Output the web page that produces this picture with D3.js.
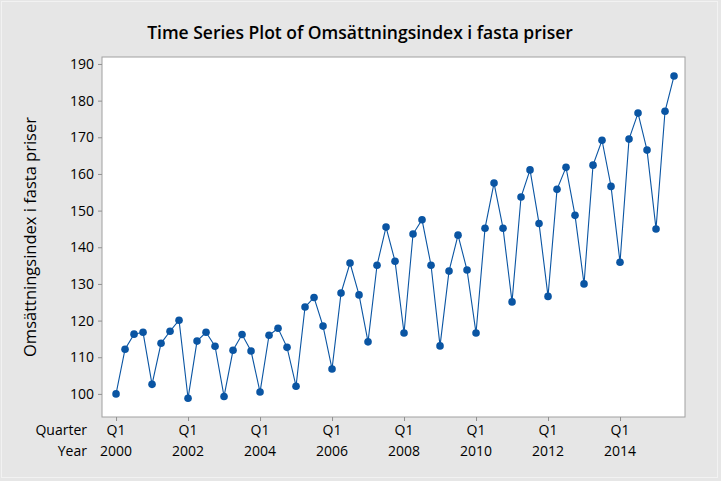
<!DOCTYPE html>
<html><head><meta charset="utf-8">
<script src="https://cdn.jsdelivr.net/npm/d3@7"></script>
<style>body{margin:0;background:#e6e6e6}svg{display:block}text{font-family:"Open Sans","Noto Sans",sans-serif;fill:#000}</style>
</head><body><div id="chart"></div>
<script>
const title = "Time Series Plot of Omsättningsindex i fasta priser";
const yLabel = "Omsättningsindex i fasta priser";
const startYear = 2000;
const values = [100.0,112.2,116.3,116.8,102.6,113.8,117.1,120.1,98.8,114.4,116.8,113.0,99.3,111.9,116.2,111.7,
100.5,116.0,117.9,112.7,102.1,123.7,126.3,118.5,106.8,127.5,135.7,127.0,114.2,135.1,145.5,136.2,
116.6,143.6,147.5,135.1,113.1,133.5,143.3,133.8,116.6,145.2,157.5,145.2,125.1,153.7,161.1,146.5,
126.6,155.8,161.8,148.7,130.0,162.4,169.2,156.6,135.9,169.5,176.6,166.5,145.0,177.1,186.7];
const yTicks = [100,110,120,130,140,150,160,170,180,190];
const xTickYears = [2000,2002,2004,2006,2008,2010,2012,2014];
const quarterLabel = "Q1";

const W = 721, H = 481;
const m = {l:102, t:57, r:685, b:417};
const svg = d3.select("#chart").append("svg").attr("width",W).attr("height",H);
svg.append("rect").attr("x",0).attr("y",0).attr("width",W).attr("height",H).attr("fill","#e6e6e6");
svg.append("rect").attr("x",1.5).attr("y",1.5).attr("width",W-5).attr("height",H-5).attr("fill","none").attr("stroke","#f2f2f2");

const x = d3.scaleLinear().domain([-1.56, 63.22]).range([m.l, m.r]);
const y = d3.scaleLinear().domain([93.7, 191.9]).range([m.b, m.t]);

svg.append("rect").attr("x",m.l).attr("y",m.t).attr("width",m.r-m.l).attr("height",m.b-m.t)
  .attr("fill","#fff").attr("stroke","#a0a0a0");

// y axis
const ya = svg.append("g").attr("transform",`translate(${m.l},0)`)
  .call(d3.axisLeft(y).tickValues(yTicks).tickSize(4).tickPadding(4));
ya.select(".domain").remove();
ya.selectAll("line").attr("stroke","#909090");
ya.selectAll("text").style("font-size","14px").attr("fill","#000");

// x axis
const idx = xTickYears.map(yr => (yr-startYear)*4);
const xa = svg.append("g").attr("transform",`translate(0,${m.b})`)
  .call(d3.axisBottom(x).tickValues(idx).tickSize(4).tickFormat(()=>""));
xa.select(".domain").remove();
xa.selectAll("line").attr("stroke","#909090");
const xt = svg.append("g");
xt.selectAll("text.q").data(idx).join("text").attr("class","q")
  .attr("x",d=>x(d)).attr("y",435).attr("text-anchor","middle").style("font-size","14px").text(quarterLabel);
xt.selectAll("text.yr").data(xTickYears).join("text").attr("class","yr")
  .attr("x",(d,i)=>x(idx[i])).attr("y",456).attr("text-anchor","middle").style("font-size","14px").text(d=>d);
svg.append("text").attr("x",87).attr("y",435).attr("text-anchor","end").style("font-size","14px").text("Quarter");
svg.append("text").attr("x",87).attr("y",456).attr("text-anchor","end").style("font-size","14px").text("Year");

// title
svg.append("text").attr("x",360).attr("y",39).attr("text-anchor","middle")
  .style("font-size","17.5px").style("font-weight","600").text(title);
// y label
svg.append("text").attr("transform",`translate(36,${(m.t+m.b)/2}) rotate(-90)`)
  .attr("text-anchor","middle").style("font-size","16.5px").text(yLabel);

const col = "#0a55a3";
const line = d3.line().x((d,i)=>x(i)).y(d=>y(d));
svg.append("path").datum(values).attr("d",line).attr("fill","none").attr("stroke",col).attr("stroke-width",1.1);
svg.selectAll("circle.p").data(values).join("circle").attr("class","p")
  .attr("cx",(d,i)=>x(i)).attr("cy",d=>y(d)).attr("r",3.8).attr("fill",col);
</script></body></html>
